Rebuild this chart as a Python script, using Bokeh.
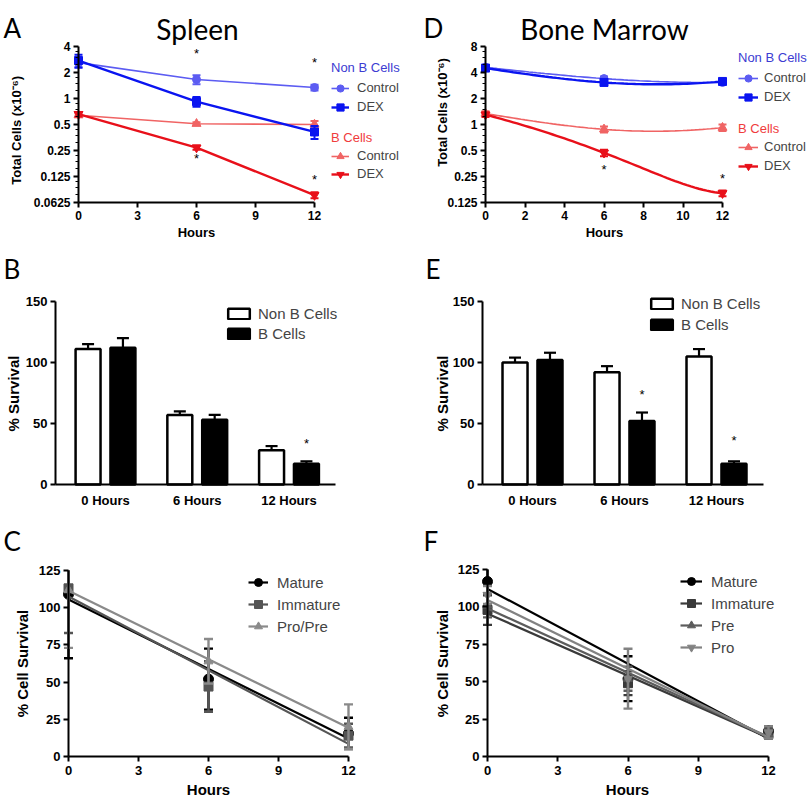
import numpy as np
from bokeh.plotting import figure
from bokeh.models import (Range1d, FixedTicker, Label, Legend, LegendItem,
                          CustomJSTickFormatter)
from bokeh.layouts import column, row
from bokeh.core.properties import value
from bokeh.embed import file_html
from bokeh.resources import INLINE

# ---------------------------------------------------------------- data
hours = [0, 6, 12]

# A  Spleen: total cells (x10^-6)
spl_nonb_ctrl = [2.6, 1.66, 1.34]
spl_nonb_ctrl_err = [0.35, 0.2, 0.1]
spl_nonb_dex = [2.75, 0.92, 0.41]
spl_nonb_dex_err = [0.45, 0.12, 0.07]
spl_b_ctrl = [0.64, 0.51, 0.50]
spl_b_ctrl_err = [0.03, 0.02, 0.05]
spl_b_dex = [0.66, 0.27, 0.076]
spl_b_dex_err = [0.04, 0.015, 0.006]
spl_star_x = [6, 6, 12, 12]
spl_star_y = [3.3, 0.2, 2.6, 0.115]
spl_count_ticks = [0.0625, 0.125, 0.25, 0.5, 1, 2, 4]
spl_hour_ticks = [0, 3, 6, 9, 12]

# D  Bone marrow: total cells (x10^-6)
bm_nonb_ctrl = [4.6, 3.4, 3.07]
bm_nonb_ctrl_err = [0.3, 0.2, 0.15]
bm_nonb_dex = [4.5, 3.07, 3.15]
bm_nonb_dex_err = [0.35, 0.15, 0.15]
bm_b_ctrl = [1.34, 0.88, 0.92]
bm_b_ctrl_err = [0.08, 0.07, 0.08]
bm_b_dex = [1.3, 0.47, 0.16]
bm_b_dex_err = [0.08, 0.04, 0.012]
bm_star_x = [6, 12]
bm_star_y = [0.3, 0.24]
bm_count_ticks = [0.125, 0.25, 0.5, 1, 2, 4, 8]
bm_hour_ticks = [0, 2, 4, 6, 8, 10, 12]

# B / E  % survival
groups = ["0 Hours", "6 Hours", "12 Hours"]
spl_surv_nonb = [111, 57, 28]
spl_surv_nonb_err = [4, 3, 3.5]
spl_surv_b = [112, 53, 17]
spl_surv_b_err = [8, 4, 2]
spl_surv_star_group = [2]
spl_surv_star_y = [34]
bm_surv_nonb = [100, 92, 105]
bm_surv_nonb_err = [4, 5, 6]
bm_surv_b = [102, 52, 17]
bm_surv_b_err = [6, 7, 2]
bm_surv_star_group = [1, 2]
bm_surv_star_y = [74, 36]
surv_ticks = [0, 50, 100, 150]

# C  Spleen B-cell subsets: % cell survival
c_mature = [109, 52, 15.5]
c_mature_err = [43, 20.5, 10.5]
c_immature = [113, 47, 14]
c_immature_err = [30, 17, 8]
c_propre = [112, 64, 20]
c_propre_err = [39, 15, 15]

# F  Bone marrow B-cell subsets: % cell survival
f_mature = [117, 52, 17]
f_mature_err = [9, 15, 3]
f_immature = [98, 49, 15]
f_immature_err = [10, 8, 3]
f_pre = [101, 52, 15]
f_pre_err = [8, 8, 3]
f_pro = [108, 52, 16]
f_pro_err = [6, 20, 4]
cell_ticks = [0, 25, 50, 75, 100, 125]
cell_hour_ticks = [0, 3, 6, 9, 12]

# ---------------------------------------------------------------- style
FONT = "Liberation Sans"
TFONT = "Lato"
NB_CTRL = "#5c5cf2"
NB_DEX = "#0a14f0"
B_CTRL = "#f06464"
B_DEX = "#e8101a"
NB_TITLE = "#3c3cd2"
B_TITLE = "#f03c3c"
C_COLS = ["#000000", "#555555", "#8a8a8a"]
F_COLS = ["#000000", "#3a3a3a", "#5c5c5c", "#828282"]


class PxMap:
    """maps a data value to a page pixel, given two anchor ticks"""
    def __init__(self, v0, p0, v1, p1, log=False):
        self.log = log
        f = np.log10 if log else (lambda v: v)
        self.a0, self.p0 = f(v0), p0
        self.s = (p1 - p0) / (f(v1) - f(v0))

    def val(self, px):
        v = self.a0 + (px - self.p0) / self.s
        return 10 ** v if self.log else v


def style_axis(ax, size):
    ax.axis_line_width = 2
    ax.axis_line_color = "black"
    ax.major_tick_line_width = 2
    ax.major_tick_line_color = "black"
    ax.major_tick_out = 5
    ax.major_tick_in = 0
    ax.minor_tick_line_width = 1.2
    ax.minor_tick_line_color = "black"
    ax.minor_tick_out = 3
    ax.minor_tick_in = 0
    ax.major_label_text_font = FONT
    ax.major_label_text_font_style = "bold"
    ax.major_label_text_font_size = f"{size}px"
    ax.major_label_text_color = "black"
    ax.major_label_standoff = 3


def make_panel(box, xm, ym, y_type="linear", tick_size=12):
    fx, fy, fw, fh = box
    p = figure(width=fw, height=fh,
               x_range=Range1d(xm.val(fx), xm.val(fx + fw)),
               y_range=Range1d(ym.val(fy + fh), ym.val(fy)),
               y_axis_type=y_type, output_backend="svg", toolbar_location=None,
               min_border_left=0, min_border_right=0,
               min_border_top=0, min_border_bottom=0)
    p.title.visible = False
    p.outline_line_color = None
    p.grid.visible = False
    p.background_fill_color = "white"
    p.border_fill_color = "white"
    style_axis(p.xaxis[0], tick_size)
    style_axis(p.yaxis[0], tick_size)
    return p


def add_text(p, box, px, py, text, size, bold=False, font=FONT, angle=0.0,
             color="black", align="center", baseline="middle"):
    fx, fy, fw, fh = box
    p.add_layout(Label(x=px - fx, y=fy + fh - py, x_units="screen", y_units="screen",
                       text=text, angle=angle, text_font=font,
                       text_font_size=f"{size}px",
                       text_font_style="bold" if bold else "normal",
                       text_color=color, text_align=align,
                       text_baseline=baseline))


def add_legend(p, box, entries, left, centers, h, glyph_w, standoff, fsize,
               glyph_h=None, title=None, title_color="black", title_center=None):
    fx, fy, fw, fh = box
    n = len(entries)
    pitch = (centers[-1] - centers[0]) / (n - 1) if n > 1 else h
    spacing = max(0, int(round(pitch - h)))
    gh = h if glyph_h is None else glyph_h
    items = [LegendItem(label=lab, renderers=rs) for lab, rs in entries]
    kw = {}
    if title:
        th = round(fsize * 1.15)
        top = title_center - th / 2
        tstand = max(0, int(round(centers[0] - h / 2 - top - th)))
        kw = dict(title=title, title_text_color=title_color, title_text_font=FONT,
                  title_text_font_size=f"{fsize}px", title_text_font_style="normal",
                  title_standoff=tstand)
        height = th + tstand + n * h + (n - 1) * spacing
    else:
        top = centers[0] - h / 2
        height = n * h + (n - 1) * spacing
    bottom = top + height
    leg = Legend(items=items, location=(left - fx, fy + fh - bottom),
                 orientation="vertical",
                 glyph_width=glyph_w, glyph_height=gh, label_height=h,
                 label_width=10, spacing=spacing, padding=0, margin=0,
                 label_standoff=standoff, label_text_font=FONT,
                 label_text_font_size=f"{fsize}px", border_line_color=None,
                 background_fill_alpha=0, **kw)
    p.add_layout(leg)


def errbars(p, xs, ys, errs, color, cap=8, lw=2, up_only=False, top=None):
    lo = [y if up_only else y - e for y, e in zip(ys, errs)]
    hi = [y + e for y, e in zip(ys, errs)]
    hi_draw = [min(v, top) for v in hi] if top is not None else hi
    p.segment(x0=xs, y0=lo, x1=xs, y1=hi_draw, line_color=color, line_width=lw)
    cx = [x for x, v in zip(xs, hi) if top is None or v <= top]
    cy = [v for v in hi if top is None or v <= top]
    p.scatter(x=cx, y=cy, marker="dash", size=cap, line_color=color, line_width=lw)
    if not up_only:
        p.scatter(x=xs, y=lo, marker="dash", size=cap, line_color=color, line_width=lw)


def stars(p, xs, ys, size=13):
    p.text(x=xs, y=ys, text=["*"] * len(xs), text_font=value(FONT),
           text_font_size=f"{size}px", text_align="center", text_baseline="middle",
           text_color="black")


def set_axes(p, yticks, xticks, x_at, y_at, ybounds, xbounds, minor=None):
    p.yaxis.ticker = FixedTicker(ticks=yticks, minor_ticks=minor or [])
    p.yaxis.fixed_location = x_at
    p.yaxis.bounds = ybounds
    p.xaxis.ticker = FixedTicker(ticks=xticks)
    p.xaxis.fixed_location = y_at
    p.xaxis.bounds = xbounds


def log_minor(ticks):
    minor = []
    for m in ticks[:-1]:
        minor += [m * 1.25, m * 1.5, m * 1.75]
    return minor


def series(p, xs, ys, errs, color, marker, size, lw, curve=False):
    if curve:
        coef = np.polyfit(xs, ys, 2)
        cx = np.linspace(xs[0], xs[-1], 61)
        ln = p.line(cx, np.polyval(coef, cx), line_color=color, line_width=lw)
    else:
        ln = p.line(xs, ys, line_color=color, line_width=lw)
    errbars(p, xs, ys, errs, color, cap=8, lw=2)
    sc = p.scatter(xs, ys, marker=marker, size=size, fill_color=color, line_color=color)
    return [ln, sc]


# ---------------------------------------------------------------- A spleen counts
boxA = (0, 0, 404, 241)
xA = PxMap(0, 78, 12, 314)
yA = PxMap(0.0625, 202, 4, 46, log=True)
pA = make_panel(boxA, xA, yA, "log", 12)
set_axes(pA, spl_count_ticks, spl_hour_ticks, 0, spl_count_ticks[0],
         (spl_count_ticks[0], spl_count_ticks[-1]), (0, 12), log_minor(spl_count_ticks))
pA.yaxis.formatter = CustomJSTickFormatter(code="return tick.toString();")
rA_bc = series(pA, hours, spl_b_ctrl, spl_b_ctrl_err, B_CTRL, "triangle", 9, 1.6)
rA_bd = series(pA, hours, spl_b_dex, spl_b_dex_err, B_DEX, "inverted_triangle", 9, 2.4)
rA_nc = series(pA, hours, spl_nonb_ctrl, spl_nonb_ctrl_err, NB_CTRL, "circle", 8, 1.6)
rA_nd = series(pA, hours, spl_nonb_dex, spl_nonb_dex_err, NB_DEX, "square", 8, 2.4)
stars(pA, spl_star_x, spl_star_y)
add_text(pA, boxA, 3, 27, "A", 26, font=TFONT, align="left", baseline="alphabetic")
add_text(pA, boxA, 197, 28, "Spleen", 28, font=TFONT, baseline="alphabetic")
add_text(pA, boxA, 196, 232, "Hours", 13, bold=True)
add_text(pA, boxA, 16, 128, "Total  Cells (x10\u207b\u2076)", 13, bold=True, angle=np.pi / 2)
add_legend(pA, boxA, [("Control", rA_nc), ("DEX", rA_nd)], 331, [87, 106], 18, 18, 8, 13,
           title="Non B Cells", title_color=NB_TITLE, title_center=67)
add_legend(pA, boxA, [("Control", rA_bc), ("DEX", rA_bd)], 331, [155, 173], 18, 18, 8, 13,
           title="B Cells", title_color=B_TITLE, title_center=137)

# ---------------------------------------------------------------- D bone marrow counts
boxD = (404, 0, 404, 241)
xD = PxMap(0, 485, 12, 722)
yD = PxMap(0.125, 202, 8, 46, log=True)
pD = make_panel(boxD, xD, yD, "log", 12)
set_axes(pD, bm_count_ticks, bm_hour_ticks, 0, bm_count_ticks[0],
         (bm_count_ticks[0], bm_count_ticks[-1]), (0, 12), log_minor(bm_count_ticks))
pD.yaxis.formatter = CustomJSTickFormatter(code="return tick.toString();")
rD_bc = series(pD, hours, bm_b_ctrl, bm_b_ctrl_err, B_CTRL, "triangle", 9, 1.6, curve=True)
rD_bd = series(pD, hours, bm_b_dex, bm_b_dex_err, B_DEX, "inverted_triangle", 9, 2.4, curve=True)
rD_nc = series(pD, hours, bm_nonb_ctrl, bm_nonb_ctrl_err, NB_CTRL, "circle", 8, 1.6, curve=True)
rD_nd = series(pD, hours, bm_nonb_dex, bm_nonb_dex_err, NB_DEX, "square", 8, 2.4, curve=True)
stars(pD, bm_star_x, bm_star_y)
add_text(pD, boxD, 423, 27, "D", 26, font=TFONT, align="left", baseline="alphabetic")
add_text(pD, boxD, 604, 28, "Bone Marrow", 28, font=TFONT, baseline="alphabetic")
add_text(pD, boxD, 604, 232, "Hours", 13, bold=True)
add_text(pD, boxD, 442, 112, "Total Cells (x10\u207b\u2076)", 13, bold=True, angle=np.pi / 2)
add_legend(pD, boxD, [("Control", rD_nc), ("DEX", rD_nd)], 738, [77, 96], 18, 20, 6, 13,
           title="Non B Cells", title_color=NB_TITLE, title_center=57)
add_legend(pD, boxD, [("Control", rD_bc), ("DEX", rD_bd)], 738, [147, 166], 18, 20, 6, 13,
           title="B Cells", title_color=B_TITLE, title_center=128)


# ---------------------------------------------------------------- B / E bars
BAR_W = 0.272
DODGE = 0.19


def bar_panel(box, xm, ym, ax_left, ax_right, nonb, nonb_err, bvals, b_err,
              star_g, star_y, letter, letter_x, ylab_x, leg_left, leg_centers):
    p = make_panel(box, xm, ym, "linear", 13)
    idx = list(range(len(groups)))
    x_nb = [i - DODGE for i in idx]
    x_b = [i + DODGE for i in idx]
    set_axes(p, surv_ticks, idx, xm.val(ax_left), 0, (0, surv_ticks[-1]),
             (xm.val(ax_left), xm.val(ax_right)))
    p.xaxis.formatter = CustomJSTickFormatter(args=dict(labels=groups),
                                              code="return labels[Math.round(tick)];")
    p.xaxis.major_tick_line_color = None
    p.xaxis.major_label_standoff = 3
    errbars(p, x_nb, nonb, nonb_err, "black", cap=12, lw=2.2, up_only=True)
    errbars(p, x_b, bvals, b_err, "black", cap=12, lw=2.2, up_only=True)
    r1 = p.vbar(x=x_nb, top=nonb, width=BAR_W, fill_color="white",
                line_color="black", line_width=2.5)
    r2 = p.vbar(x=x_b, top=bvals, width=BAR_W, fill_color="black",
                line_color="black", line_width=2.5)
    stars(p, [g + DODGE for g in star_g], star_y)
    add_text(p, box, letter_x, 268, letter, 26, font=TFONT, align="left",
             baseline="alphabetic")
    add_text(p, box, ylab_x, 393, "% Survival", 15, bold=True, angle=np.pi / 2)
    add_legend(p, box, [("Non B Cells", [r1]), ("B Cells", [r2])], leg_left,
               leg_centers, 20, 27, 6, 15, glyph_h=13)
    return p


boxB = (0, 241, 404, 271)
pB = bar_panel(boxB, PxMap(0, 105, 2, 288.5), PxMap(0, 484, 150, 301), 55, 335,
               spl_surv_nonb, spl_surv_nonb_err, spl_surv_b, spl_surv_b_err,
               spl_surv_star_group, spl_surv_star_y, "B", 3, 13, 225, [313, 333])

boxE = (404, 241, 404, 271)
pE = bar_panel(boxE, PxMap(0, 532, 2, 716), PxMap(0, 484, 150, 301), 482, 763,
               bm_surv_nonb, bm_surv_nonb_err, bm_surv_b, bm_surv_b_err,
               bm_surv_star_group, bm_surv_star_y, "E", 425, 442, 648, [303, 324])


# ---------------------------------------------------------------- C / F subsets
def subset_panel(box, xm, ym, sets, letter, letter_x, ylab_x, hours_x,
                 leg_left, leg_centers, glyph_w):
    p = make_panel(box, xm, ym, "linear", 13)
    set_axes(p, cell_ticks, cell_hour_ticks, 0, 0, (0, cell_ticks[-1]),
             (cell_hour_ticks[0], cell_hour_ticks[-1]))
    p.xaxis.major_label_standoff = 4
    entries = []
    for name, vals, errs, col, mk, sz in sets:
        k, c = np.polyfit(hours, vals, 1)
        fxs = [hours[0], hours[-1]]
        ln = p.line(fxs, [c + k * x for x in fxs], line_color=col, line_width=2.2)
        errbars(p, hours, vals, errs, col, cap=9, lw=2.4, top=cell_ticks[-1])
        sc = p.scatter(hours, vals, marker=mk, size=sz, fill_color=col, line_color=col)
        entries.append((name, [ln, sc]))
    add_text(p, box, letter_x, 540, letter, 26, font=TFONT, align="left",
             baseline="alphabetic")
    add_text(p, box, ylab_x, 663, "% Cell Survival", 15, bold=True, angle=np.pi / 2)
    add_text(p, box, hours_x, 789, "Hours", 15, bold=True)
    add_legend(p, box, entries, leg_left, leg_centers, 20, glyph_w, 9, 15)
    return p


boxC = (0, 512, 404, 286)
pC = subset_panel(boxC, PxMap(0, 68, 12, 348), PxMap(0, 756, 125, 570),
                  [("Mature", c_mature, c_mature_err, C_COLS[0], "circle", 10),
                   ("Immature", c_immature, c_immature_err, C_COLS[1], "square", 9),
                   ("Pro/Pre", c_propre, c_propre_err, C_COLS[2], "triangle", 9)],
                  "C", 3, 22, 208, 248, [582, 603, 625], 20)

boxF = (404, 512, 404, 286)
pF = subset_panel(boxF, PxMap(0, 487, 12, 768), PxMap(0, 756, 125, 569),
                  [("Mature", f_mature, f_mature_err, F_COLS[0], "circle", 10),
                   ("Immature", f_immature, f_immature_err, F_COLS[1], "square", 9),
                   ("Pre", f_pre, f_pre_err, F_COLS[2], "triangle", 9),
                   ("Pro", f_pro, f_pro_err, F_COLS[3], "inverted_triangle", 9)],
                  "F", 423, 442, 627, 680, [581, 602, 624, 646], 22)

layout = column(row(pA, pD), row(pB, pE), row(pC, pF))
open("out.html", "w").write(file_html(layout, INLINE))
